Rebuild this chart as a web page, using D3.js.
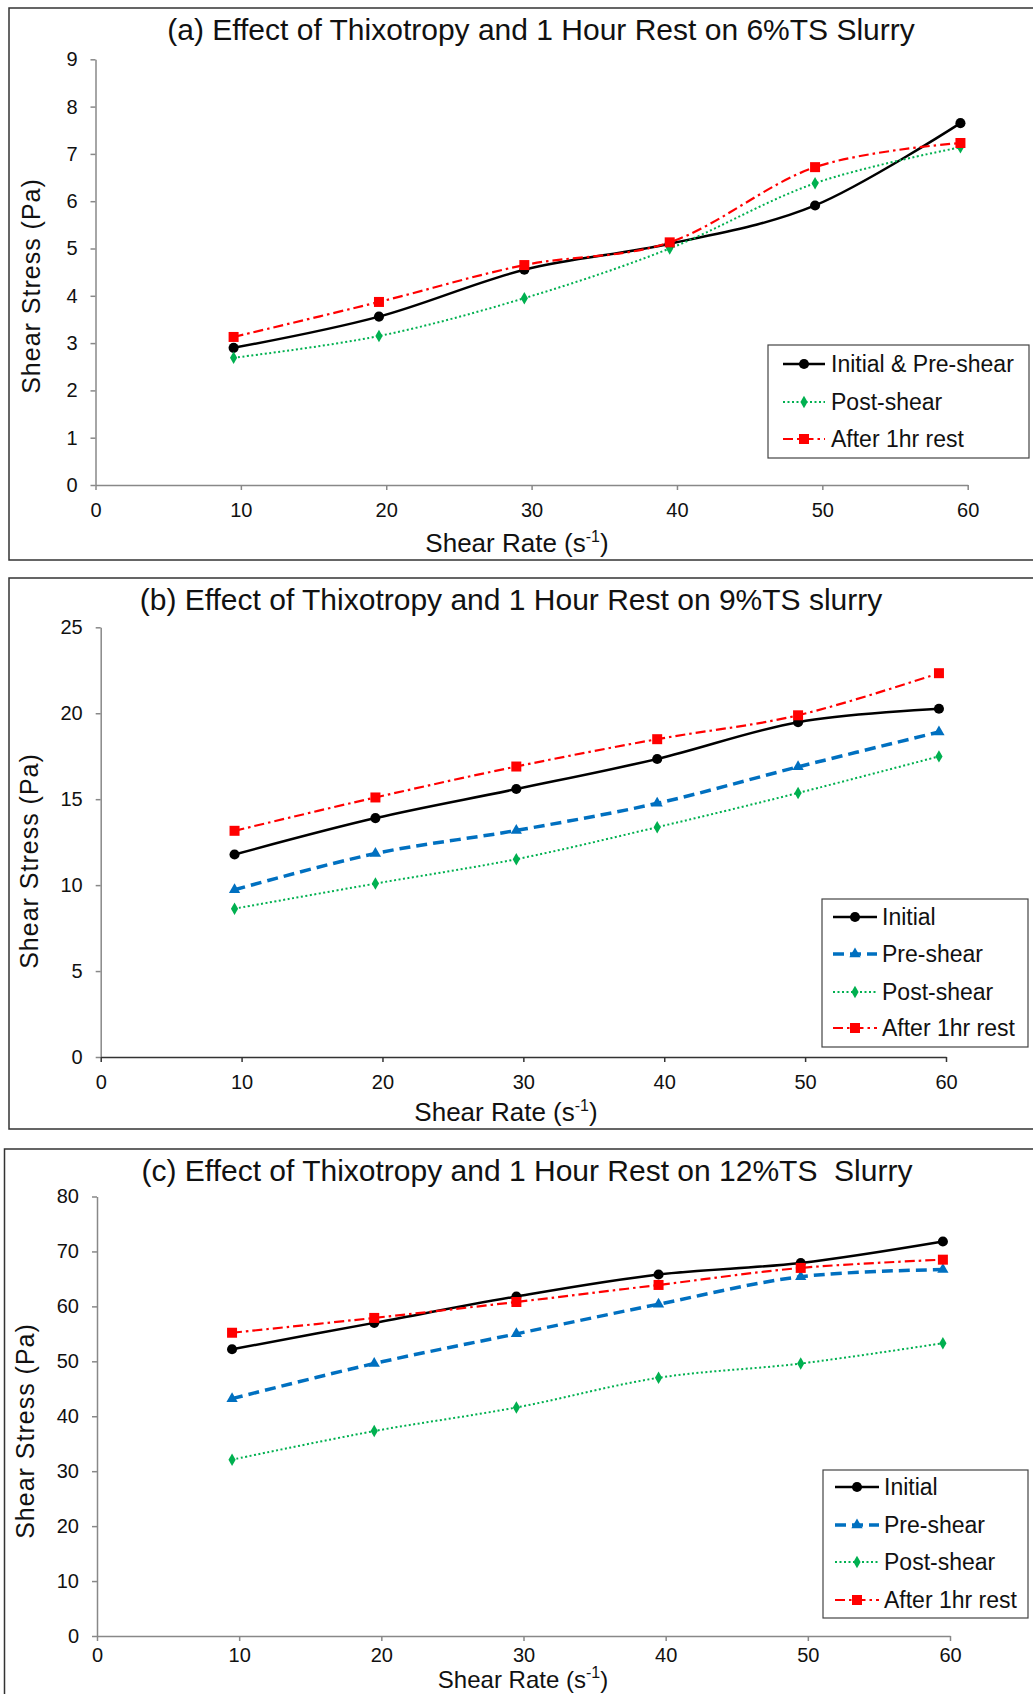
<!DOCTYPE html>
<html>
<head>
<meta charset="utf-8">
<script src="https://cdn.jsdelivr.net/npm/d3@7"></script>
<style>
  body { margin: 0; background: #fff; }
  svg { display: block; font-family: "Liberation Sans", Arial, sans-serif; }
</style>
</head>
<body>
<div id="chart"></div>
<script>
// shear rate (1/s) at which each reading was taken
const SHEAR_RATE = [9.5, 19.5, 29.5, 39.5, 49.5, 59.5];
const X_TICKS = [0, 10, 20, 30, 40, 50, 60];

// (a) 6%TS slurry, shear stress in Pa
const A_INITIAL = [2.90, 3.56, 4.55, 5.10, 5.91, 7.65];
const A_POSTSHEAR = [2.69, 3.15, 3.95, 5.00, 6.38, 7.14];
const A_REST = [3.13, 3.87, 4.65, 5.13, 6.72, 7.23];
const A_Y_TICKS = [0, 1, 2, 3, 4, 5, 6, 7, 8, 9];

// (b) 9%TS slurry
const B_INITIAL = [11.78, 13.90, 15.59, 17.34, 19.48, 20.26];
const B_PRESHEAR = [9.73, 11.84, 13.18, 14.76, 16.88, 18.91];
const B_POSTSHEAR = [8.63, 10.09, 11.51, 13.37, 15.36, 17.49];
const B_REST = [13.16, 15.10, 16.90, 18.49, 19.88, 22.33];
const B_Y_TICKS = [0, 5, 10, 15, 20, 25];

// (c) 12%TS slurry
const C_INITIAL = [52.2, 57.0, 61.8, 65.8, 67.9, 71.8];
const C_PRESHEAR = [43.2, 49.6, 55.0, 60.4, 65.4, 66.7];
const C_POSTSHEAR = [32.1, 37.3, 41.6, 47.0, 49.6, 53.3];
const C_REST = [55.2, 57.9, 60.8, 63.9, 67.0, 68.5];
const C_Y_TICKS = [0, 10, 20, 30, 40, 50, 60, 70, 80];

const WIDTH = 1033, HEIGHT = 1694;

// line + marker style for each kind of series
const STYLE = {
    initial: { color: '#000000', width: 2.5, dash: null, symbol: d3.symbolCircle, size: 80 },
    pre: { color: '#0070c0', width: 3.5, dash: '11,6', symbol: d3.symbolTriangle, size: 55 },
    post: { color: '#00b050', width: 2, dash: '2,2.5', symbol: d3.symbolDiamond, size: 45 },
    rest: { color: '#ff0000', width: 2.2, dash: '10,4,2.5,4', symbol: d3.symbolSquare, size: 100 }
};

const panels = [
    {
        box: [9, 8, 1040, 560],
        title: '(a) Effect of Thixotropy and 1 Hour Rest on 6%TS Slurry', titleX: 541, titleY: 40,
        xRange: [95.5, 967.7], yRange: [485, 59.3], yMax: 9, yTicks: A_Y_TICKS, xPad: 13,
        xTitleX: 517, xTitleY: 552, xTitleSize: 26, yTitleX: 40, yTitleY: 286, xAxisColor: '#888',
        legend: { x: 768, y: 345, w: 261, h: 113, rows: [19, 57, 94], lx: [15, 57], tx: 63 },
        series: [
            { name: 'Initial & Pre-shear', values: A_INITIAL, style: STYLE.initial },
            { name: 'Post-shear', values: A_POSTSHEAR, style: STYLE.post },
            { name: 'After 1hr rest', values: A_REST, style: STYLE.rest }
        ]
    },
    {
        box: [9, 578, 1040, 1129],
        title: '(b) Effect of Thixotropy and 1 Hour Rest on 9%TS slurry', titleX: 511, titleY: 610,
        xRange: [100.7, 946], yRange: [1057, 627.3], yMax: 25, yTicks: B_Y_TICKS, xPad: 13,
        xTitleX: 506, xTitleY: 1121, xTitleSize: 26, yTitleX: 38, yTitleY: 861, xAxisColor: '#333',
        legend: { x: 822, y: 899, w: 206, h: 148, rows: [18, 55, 93, 129], lx: [11, 55], tx: 60 },
        series: [
            { name: 'Initial', values: B_INITIAL, style: STYLE.initial },
            { name: 'Pre-shear', values: B_PRESHEAR, style: STYLE.pre },
            { name: 'Post-shear', values: B_POSTSHEAR, style: STYLE.post },
            { name: 'After 1hr rest', values: B_REST, style: STYLE.rest }
        ]
    },
    {
        box: [4.5, 1149, 1040, 1720],
        title: '(c) Effect of Thixotropy and 1 Hour Rest on 12%TS  Slurry', titleX: 527, titleY: 1181,
        xRange: [97, 950], yRange: [1636, 1196.5], yMax: 80, yTicks: C_Y_TICKS, xPad: 7,
        xTitleX: 523, xTitleY: 1688, xTitleSize: 24, yTitleX: 34, yTitleY: 1431, xAxisColor: '#888',
        legend: { x: 823, y: 1470, w: 205, h: 148, rows: [17, 55, 92, 130], lx: [12, 56], tx: 61 },
        series: [
            { name: 'Initial', values: C_INITIAL, style: STYLE.initial },
            { name: 'Pre-shear', values: C_PRESHEAR, style: STYLE.pre },
            { name: 'Post-shear', values: C_POSTSHEAR, style: STYLE.post },
            { name: 'After 1hr rest', values: C_REST, style: STYLE.rest }
        ]
    }
];

const svg = d3.select('#chart').append('svg')
    .attr('width', WIDTH)
    .attr('height', HEIGHT);

svg.append('rect').attr('width', WIDTH).attr('height', HEIGHT).attr('fill', '#fff');

function applyLine(sel, st) {
    sel.attr('fill', 'none')
        .attr('stroke', st.color)
        .attr('stroke-width', st.width)
        .attr('stroke-dasharray', st.dash);
}

panels.forEach(p => {
    const g = svg.append('g');

    // panel frame
    g.append('rect')
        .attr('x', p.box[0]).attr('y', p.box[1])
        .attr('width', p.box[2] - p.box[0]).attr('height', p.box[3] - p.box[1])
        .attr('fill', 'none').attr('stroke', '#333').attr('stroke-width', 1.5);

    const x = d3.scaleLinear().domain([0, 60]).range(p.xRange);
    const y = d3.scaleLinear().domain([0, p.yMax]).range(p.yRange);

    // axes
    const yAxis = g.append('g')
        .attr('transform', `translate(${p.xRange[0]},0)`)
        .call(d3.axisLeft(y).tickValues(p.yTicks).tickSize(5).tickSizeOuter(0).tickPadding(13));
    const xAxis = g.append('g')
        .attr('transform', `translate(0,${p.yRange[0]})`)
        .call(d3.axisBottom(x).tickValues(X_TICKS).tickSize(5).tickSizeOuter(0).tickPadding(p.xPad));

    yAxis.selectAll('path, line').attr('stroke', '#888').attr('stroke-width', 1.5);
    xAxis.selectAll('path, line').attr('stroke', p.xAxisColor).attr('stroke-width', 1.5);
    g.selectAll('.tick text').attr('font-size', 20).attr('fill', '#111')
        .attr('font-family', '"Liberation Sans", Arial, sans-serif');

    // titles
    g.append('text')
        .attr('x', p.titleX).attr('y', p.titleY)
        .attr('text-anchor', 'middle').attr('font-size', 30).attr('fill', '#111')
        .style('white-space', 'pre')
        .text(p.title);

    const xt = g.append('text')
        .attr('x', p.xTitleX).attr('y', p.xTitleY)
        .attr('text-anchor', 'middle').attr('font-size', p.xTitleSize).attr('fill', '#111');
    xt.append('tspan').text('Shear Rate (s');
    xt.append('tspan').attr('font-size', 16).attr('dy', -10).text('-1');
    xt.append('tspan').attr('dy', 10).text(')');

    g.append('text')
        .attr('transform', `translate(${p.yTitleX},${p.yTitleY}) rotate(-90)`)
        .attr('text-anchor', 'middle').attr('font-size', 25).attr('fill', '#111')
        .attr('letter-spacing', 1)
        .text('Shear Stress (Pa)');

    // series lines and markers
    const line = d3.line()
        .x((d, i) => x(SHEAR_RATE[i]))
        .y(d => y(d))
        .curve(d3.curveCardinal.tension(0));

    p.series.forEach(s => {
        g.append('path')
            .attr('d', line(s.values))
            .call(applyLine, s.style);

        g.selectAll(null).data(s.values).enter().append('path')
            .attr('transform', (d, i) => `translate(${x(SHEAR_RATE[i])},${y(d)})`)
            .attr('d', d3.symbol().type(s.style.symbol).size(s.style.size))
            .attr('fill', s.style.color);
    });

    // legend
    const L = p.legend;
    const lg = g.append('g').attr('transform', `translate(${L.x},${L.y})`);
    lg.append('rect')
        .attr('width', L.w).attr('height', L.h)
        .attr('fill', '#fff').attr('stroke', '#444').attr('stroke-width', 1.2);

    p.series.forEach((s, i) => {
        const row = lg.append('g').attr('transform', `translate(0,${L.rows[i]})`);
        row.append('line')
            .attr('x1', L.lx[0]).attr('x2', L.lx[1])
            .call(applyLine, s.style);
        row.append('path')
            .attr('transform', `translate(${(L.lx[0] + L.lx[1]) / 2},0)`)
            .attr('d', d3.symbol().type(s.style.symbol).size(s.style.size))
            .attr('fill', s.style.color);
        row.append('text')
            .attr('x', L.tx).attr('dy', '0.35em')
            .attr('font-size', 23).attr('fill', '#111')
            .text(s.name);
    });
});
</script>
</body>
</html>
